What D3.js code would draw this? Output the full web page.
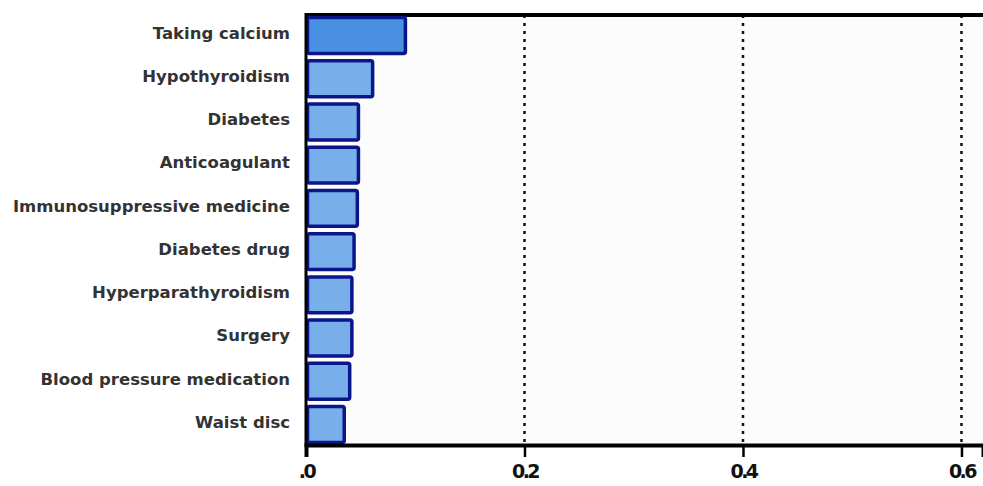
<!DOCTYPE html>
<html>
<head>
<meta charset="utf-8">
<script src="https://cdn.jsdelivr.net/npm/d3@7"></script>
<style>
  body { margin: 0; background: #fff; }
  text { font-family: "DejaVu Sans", sans-serif; }
</style>
</head>
<body>
<div id="chart"></div>
<script>
var categories = ["Taking calcium", "Hypothyroidism", "Diabetes", "Anticoagulant",
  "Immunosuppressive medicine", "Diabetes drug", "Hyperparathyroidism", "Surgery",
  "Blood pressure medication", "Waist disc"];
var importance = [0.091, 0.061, 0.048, 0.048, 0.047, 0.044, 0.042, 0.042, 0.040, 0.035];
var tickValues = [0, 0.2, 0.4, 0.6];
var tickLabels = [".0", "0.2", "0.4", "0.6"];

var W = 983, H = 486;
var margin = {top: 15, right: 0, bottom: 41, left: 306},
    width = W - margin.left - margin.right,
    height = H - margin.top - margin.bottom;

var svg = d3.select("#chart")
  .append("svg")
    .attr("width", W)
    .attr("height", H)
  .append("g")
    .attr("transform", "translate(" + margin.left + "," + margin.top + ")");

var x = d3.scaleLinear()
    .domain([0, 0.6197])
    .range([0, width]);

var y = d3.scaleBand()
    .domain(categories)
    .range([0, height])
    .paddingInner(0.17)
    .paddingOuter(0.06);

// plot background
svg.append("rect")
    .attr("width", width)
    .attr("height", height)
    .attr("fill", "#fcfcfc");

// dotted grid lines
svg.selectAll("line.grid")
    .data(tickValues.slice(1))
    .enter()
    .append("line")
      .attr("class", "grid")
      .attr("x1", function(d) { return x(d); })
      .attr("x2", function(d) { return x(d); })
      .attr("y1", 0)
      .attr("y2", height)
      .attr("stroke", "#111")
      .attr("stroke-width", 2.5)
      .attr("stroke-dasharray", "3,5");

// top border
svg.append("line")
    .attr("x1", 0).attr("x2", width)
    .attr("y1", 0).attr("y2", 0)
    .attr("stroke", "#000")
    .attr("stroke-width", 4);

svg.selectAll("rect.bar")
    .data(categories)
    .enter()
    .append("rect")
      .attr("class", "bar")
      .attr("x", 1.5)
      .attr("y", function(d) { return y(d); })
      .attr("width", function(d, i) { return x(importance[i]) - 1.5; })
      .attr("height", y.bandwidth())
      .attr("rx", 2)
      .attr("fill", function(d, i) { return i == 0 ? "#4a90e2" : "#78aeea"; })
      .attr("stroke", "#0a168a")
      .attr("stroke-width", 3.5);

// x axis
var xAxis = svg.append("g")
    .attr("transform", "translate(0," + height + ")")
    .call(d3.axisBottom(x)
      .tickValues(tickValues)
      .tickFormat(function(d, i) { return tickLabels[i]; })
      .tickSize(12)
      .tickPadding(8));
xAxis.select(".domain").attr("stroke", "#000").attr("stroke-width", 4);
xAxis.selectAll(".tick line").attr("stroke", "#000").attr("stroke-width", 2.5);
xAxis.selectAll(".tick text")
    .attr("fill", "#111")
    .style("font-size", "19px")
    .style("font-weight", "bold")
    .style("letter-spacing", "-2.5px");

// y axis
var yAxis = svg.append("g")
    .call(d3.axisLeft(y).tickSize(0).tickPadding(16));
yAxis.select(".domain").remove();
yAxis.selectAll(".tick text")
    .attr("fill", "#333")
    .attr("dy", "0.2em")
    .style("font-size", "16.5px")
    .style("font-weight", "bold");

svg.append("line")
    .attr("x1", 0).attr("x2", 0)
    .attr("y1", -2).attr("y2", height + 2)
    .attr("stroke", "#000")
    .attr("stroke-width", 3);
</script>
</body>
</html>
